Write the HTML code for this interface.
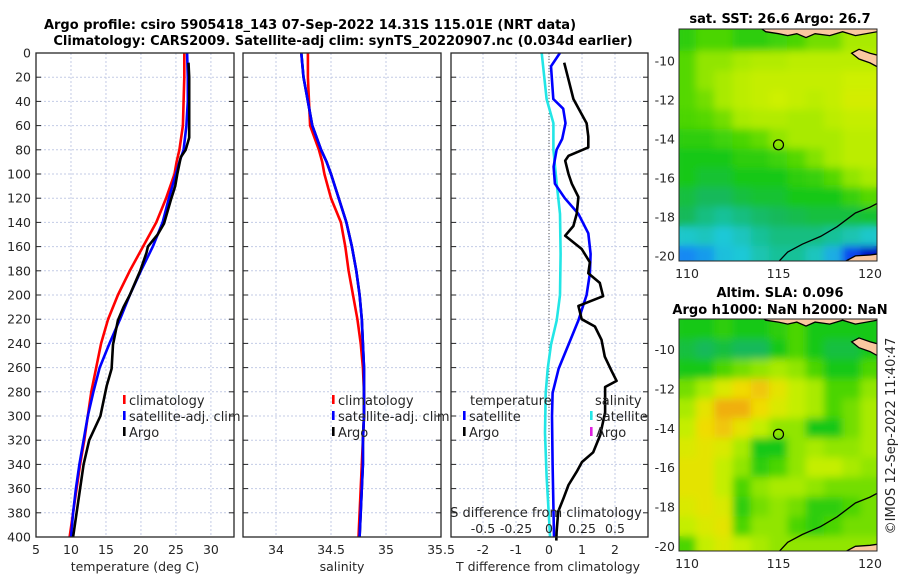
<!DOCTYPE html>
<html><head><meta charset="utf-8">
<style>
html,body{margin:0;padding:0;background:#fff;}
svg{display:block;font-family:"DejaVu Sans","Liberation Sans",sans-serif;}
</style></head>
<body>
<svg id="fig" width="900" height="580" viewBox="0 0 900 580">
<defs><filter id="blurf" x="-5%" y="-5%" width="110%" height="110%"><feGaussianBlur stdDeviation="4"/></filter></defs>
</svg>
<script>
// ---------- data ----------
const depths = [0,20,40,60,80,90,100,120,140,160,180,200,220,240,260,280,300,320,340,360,380,400];
const tempClim = [26.2,26.2,26.1,26.0,25.5,25.1,24.8,23.6,22.2,20.3,18.4,16.7,15.3,14.3,13.6,12.9,12.4,11.9,11.3,10.8,10.3,9.8];
const tempSat  = [26.6,26.7,26.7,26.5,26.1,25.5,25.0,24.0,23.1,21.7,20.0,18.4,17.0,15.5,14.1,13.2,12.4,11.8,11.2,10.7,10.3,10.0];
const argoDepths = [8,20,40,60,70,80,86,100,110,121,141,150,160,165,180,200,210,221,241,261,275,300,320,340,360,380,400];
const tempArgo = [26.8,26.9,26.9,26.9,26.9,26.4,25.7,25.2,24.9,24.3,23.3,22.4,21.0,20.8,19.9,18.4,17.5,16.7,16.0,15.8,15.1,14.2,12.6,11.8,11.3,10.8,10.3];
const salClim = [34.29,34.29,34.30,34.31,34.39,34.42,34.44,34.50,34.59,34.63,34.66,34.70,34.74,34.77,34.79,34.80,34.80,34.79,34.78,34.77,34.76,34.75];
const salSat  = [34.23,34.25,34.29,34.33,34.41,34.46,34.50,34.57,34.64,34.69,34.73,34.76,34.78,34.79,34.80,34.80,34.80,34.79,34.79,34.78,34.77,34.76];
const salArgo = [34.23,34.25,34.29,34.33,34.41,34.46,34.50,34.57,34.64,34.69,34.73,34.76,34.78,34.79,34.80,34.80,34.80,34.79,34.79,34.78,34.77,34.76];
const tdDepths = [0,11,38,46,58,71,80,94,108,120,133,149,166,182,200,221,241,261,281,300,340,400];
const tdiffSat = [0.33,0.06,0.13,0.43,0.50,0.40,0.23,0.14,0.18,0.48,0.89,1.19,1.26,1.24,1.14,0.89,0.59,0.29,0.11,0.09,0.11,0.15];
const tdArgoDepths = [8,22,38,58,69,78,85,89,100,108,119,133,143,151,162,173,182,190,201,209,220,226,237,251,263,271,276,297,316,330,338,346,357,368,379,396,403];
const tdiffArgo = [0.46,0.59,0.74,1.14,1.19,1.19,0.59,0.49,0.59,0.69,0.89,0.84,0.74,0.49,0.99,1.24,1.19,1.54,1.64,0.89,0.99,1.39,1.59,1.69,1.90,2.05,1.70,1.70,1.55,1.34,1.00,0.84,0.59,0.44,0.28,0.23,0.22];
const sdDepths = [0,38,58,80,108,133,166,200,221,241,261,281,314,350,400];
const sdiffSat = [-0.055,-0.018,0.033,0.033,0.058,0.083,0.088,0.083,0.058,0.015,-0.01,-0.025,-0.03,-0.018,0.008];
const depthTicks = [0,20,40,60,80,100,120,140,160,180,200,220,240,260,280,300,320,340,360,380,400];
const tempTicks = [5,10,15,20,25,30];
const salTicks = [34,34.5,35,35.5];
const tdTicks = [-2,-1,0,1,2];
const sdTicks = [-0.5,-0.25,0,0.25,0.5];
const sdTickLabels = ["-0.5","-0.25","0","0.25","0.5"];
const latTicks = [-10,-12,-14,-16,-18,-20];
const lonTicks = [110,115,120];
const sstGrid = [
[0.52,0.55,0.55,0.52,0.52,0.54,0.55,0.58,0.58,0.62,0.62],
[0.56,0.60,0.60,0.62,0.63,0.63,0.64,0.64,0.64,0.64,0.64],
[0.56,0.60,0.62,0.64,0.65,0.65,0.65,0.65,0.65,0.66,0.66],
[0.56,0.58,0.62,0.64,0.65,0.66,0.65,0.64,0.65,0.67,0.67],
[0.55,0.56,0.58,0.62,0.63,0.63,0.62,0.62,0.64,0.65,0.65],
[0.52,0.52,0.54,0.55,0.57,0.60,0.62,0.62,0.62,0.64,0.64],
[0.50,0.50,0.50,0.52,0.52,0.54,0.56,0.59,0.62,0.64,0.64],
[0.50,0.48,0.48,0.50,0.50,0.50,0.52,0.53,0.56,0.60,0.62],
[0.47,0.45,0.45,0.47,0.48,0.48,0.50,0.50,0.50,0.53,0.56],
[0.45,0.42,0.40,0.42,0.44,0.45,0.46,0.47,0.47,0.47,0.48],
[0.36,0.37,0.35,0.37,0.40,0.42,0.42,0.42,0.40,0.38,0.36],
[0.28,0.30,0.34,0.35,0.38,0.40,0.40,0.37,0.32,0.20,0.10]];
const slaGrid = [
[0.50,0.50,0.52,0.50,0.50,0.52,0.55,0.50,0.50,0.50,0.50],
[0.47,0.45,0.47,0.45,0.45,0.50,0.55,0.50,0.47,0.47,0.50],
[0.50,0.50,0.55,0.58,0.60,0.62,0.60,0.55,0.50,0.50,0.55],
[0.58,0.62,0.68,0.72,0.75,0.70,0.65,0.62,0.55,0.55,0.60],
[0.62,0.70,0.78,0.78,0.72,0.68,0.65,0.62,0.55,0.58,0.62],
[0.65,0.72,0.75,0.70,0.65,0.60,0.60,0.50,0.50,0.58,0.62],
[0.68,0.70,0.68,0.62,0.50,0.50,0.60,0.62,0.60,0.60,0.62],
[0.70,0.70,0.65,0.60,0.52,0.55,0.60,0.65,0.65,0.62,0.60],
[0.70,0.70,0.65,0.55,0.60,0.62,0.62,0.60,0.58,0.58,0.58],
[0.68,0.70,0.68,0.52,0.58,0.60,0.58,0.52,0.52,0.55,0.58],
[0.65,0.68,0.70,0.55,0.60,0.60,0.55,0.52,0.55,0.58,0.58],
[0.55,0.65,0.68,0.65,0.62,0.60,0.60,0.60,0.60,0.60,0.60]];
const coastTop = [[114.0,-8.3],[114.3,-8.5],[115.0,-8.6],[115.5,-8.7],[116.0,-8.6],[116.5,-8.8],[117.0,-8.6],[117.8,-8.7],[118.5,-8.5],[119.2,-8.7],[120.4,-8.5],[120.4,-8.3]];
const islandSumba = [[119.0,-9.6],[119.4,-9.4],[120.0,-9.6],[120.4,-9.7],[120.4,-10.3],[120.0,-10.1],[119.4,-9.9]];
const landBR = [[118.6,-20.3],[119.2,-20.0],[120.0,-19.95],[120.4,-19.9],[120.4,-20.3]];
const contour = [[115.0,-20.3],[115.5,-19.8],[116.3,-19.4],[117.3,-19.0],[118.2,-18.5],[119.2,-17.8],[120.0,-17.5],[120.4,-17.3]];
const argoPos = [115.0,-14.3];

// ---------- helpers ----------
const NS="http://www.w3.org/2000/svg";
const svg=document.getElementById('fig');
function mk(tag,attrs,parent){const e=document.createElementNS(NS,tag);for(const k in attrs)e.setAttribute(k,attrs[k]);(parent||svg).appendChild(e);return e;}
function txt(s,x,y,attrs,parent){const e=mk('text',Object.assign({x:x,y:y,'font-size':12.5,fill:'#262626'},attrs||{}),parent);e.textContent=s;return e;}

const PT=53, PB=537;
const yD = d => PT + d*(PB-PT)/400;
function panel(name,x0,x1,xmin,xmax){
  const g=mk('g',{});
  
  
  const sx=v=>x0+(v-xmin)*(x1-x0)/(xmax-xmin);
  return {g,sx,x0,x1};
}
function grid(p,xticks){
  depthTicks.forEach(d=>{ if(d>0&&d<400){const l=mk('line',{x1:p.x0,x2:p.x1,y1:yD(d),y2:yD(d),stroke:'#c3cbe6','stroke-width':1,'stroke-dasharray':'2,2'},p.g);
    
    mk('line',{x1:p.x0,x2:p.x0+5,y1:yD(d),y2:yD(d),stroke:'#262626'},p.g);
    mk('line',{x1:p.x1-5,x2:p.x1,y1:yD(d),y2:yD(d),stroke:'#262626'},p.g);}});
  xticks.forEach(v=>{const x=p.sx(v); if(x>p.x0+1&&x<p.x1-1){const l=mk('line',{x1:x,x2:x,y1:PT,y2:PB,stroke:'#c3cbe6','stroke-width':1,'stroke-dasharray':'2,2'},p.g);
    }});
}
function frame(p){const r=mk('rect',{x:p.x0,y:PT,width:p.x1-p.x0,height:PB-PT,fill:'none',stroke:'#262626','stroke-width':1.3},p.g);
  }
function line(p,xs,ds,color,name,w){
  const pts=xs.map((v,i)=>p.sx(v).toFixed(1)+','+yD(ds[i]).toFixed(1)).join(' ');
  const e=mk('polyline',{points:pts,fill:'none',stroke:color,'stroke-width':w||2.6,'stroke-linejoin':'round'},p.g);
  
}
function xlabels(p,ticks,labels,y){ticks.forEach((v,i)=>{const t=txt(labels?labels[i]:String(v),p.sx(v),y,{'text-anchor':'middle'},p.g);
  });}
function legendItem(p,x,y,color,label){
  const r=mk('rect',{x:x-6,y:y-10,width:2.6,height:9,fill:color},p.g);
  
  const t=txt(label,x,y,{'font-size':13},p.g);
  
}

let t=txt('Argo profile: csiro 5905418_143 07-Sep-2022 14.31S 115.01E (NRT data)',310,29,{'text-anchor':'middle','font-weight':'bold','font-size':13,fill:'#000'});

t=txt('Climatology: CARS2009. Satellite-adj clim: synTS_20220907.nc (0.034d earlier)',343,45,{'text-anchor':'middle','font-weight':'bold','font-size':13,fill:'#000'});


// ---------- panel 1 ----------
const p1=panel('temperature-panel',36,234,5,33.3);
grid(p1,tempTicks);
line(p1,tempClim,depths,'#ff0000','climatology-temperature-line');
line(p1,tempSat,depths,'#0000ff','satellite-temperature-line');
line(p1,tempArgo,argoDepths,'#000000','argo-temperature-line');
frame(p1);
depthTicks.forEach(d=>{const e=txt(String(d),31,yD(d)+4.5,{'text-anchor':'end'},p1.g);});
xlabels(p1,tempTicks,null,554);
t=txt('temperature (deg C)',135,571,{'text-anchor':'middle'},p1.g);
legendItem(p1,129,405,'#ff0000','climatology');
legendItem(p1,129,421,'#0000ff','satellite-adj. clim');
legendItem(p1,129,437,'#000000','Argo');

// ---------- panel 2 ----------
const p2=panel('salinity-panel',243,441,33.7,35.5);
grid(p2,salTicks);
line(p2,salClim,depths,'#ff0000','climatology-salinity-line');
line(p2,salArgo,depths,'#000000','argo-salinity-line');
line(p2,salSat,depths,'#0000ff','satellite-salinity-line');
frame(p2);
xlabels(p2,salTicks,null,554);
t=txt('salinity',342,571,{'text-anchor':'middle'},p2.g);
legendItem(p2,338,405,'#ff0000','climatology');
legendItem(p2,338,421,'#0000ff','satellite-adj. clim');
legendItem(p2,338,437,'#000000','Argo');

// ---------- panel 3 ----------
const p3=panel('difference-panel',451,648,-98/33,99/33);
const p3s=panel('s-difference-axis',451,648,-98/132,99/132);
grid(p3,tdTicks);
let z=mk('line',{x1:p3.sx(0),x2:p3.sx(0),y1:PT,y2:PB,stroke:'#555','stroke-width':1,'stroke-dasharray':'1,2'},p3.g);

p3s.g.remove();
const sdLine={g:p3.g,sx:p3s.sx};
line(sdLine,sdiffSat,sdDepths,'#22e6e6','satellite-salinity-diff-line');
line(p3,tdiffSat,tdDepths,'#0000ff','satellite-temperature-diff-line');
line(p3,tdiffArgo,tdArgoDepths,'#000000','argo-temperature-diff-line');
frame(p3);
xlabels(p3,tdTicks,null,554);
t=txt('T difference from climatology',548,571,{'text-anchor':'middle'},p3.g);
t=txt('S difference from climatology',546,517,{'text-anchor':'middle','font-size':13},p3.g);
sdTicks.forEach((v,i)=>{const e=txt(sdTickLabels[i],p3s.sx(v),533,{'text-anchor':'middle'},p3.g);});
t=txt('temperature',470,405,{'font-size':13},p3.g);
legendItem(p3,469,421,'#0000ff','satellite');
legendItem(p3,469,437,'#000000','Argo');
t=txt('salinity',595,405,{'font-size':13},p3.g);
legendItem(p3,596,421,'#22e6e6','satellite');
legendItem(p3,596,437,'#e020e0','Argo');

// ---------- maps ----------
const cstops=[[0.0,[0,0,140]],[0.12,[0,0,210]],[0.25,[20,110,255]],[0.35,[30,200,215]],[0.45,[20,185,90]],[0.5,[25,200,25]],[0.56,[85,216,0]],[0.61,[160,232,0]],[0.66,[205,240,0]],[0.72,[240,220,0]],[0.8,[240,160,20]],[1,[230,60,0]]];
function cmap(v){for(let i=1;i<cstops.length;i++){if(v<=cstops[i][0]){const a=cstops[i-1],b=cstops[i];const f=(v-a[0])/(b[0]-a[0]);const c=a[1].map((x,k)=>Math.round(x+(b[1][k]-x)*f));return 'rgb('+c.join(',')+')';}}return 'rgb(230,60,0)';}
function drawMap(name,grid,x0,x1,yTop,yBot,latTop,latBot,title1,title2,ty1,ty2){
  const g=mk('g',{});
  
  
  const lonMin=110-(687-x0)/18.3, lonMax=lonMin+(x1-x0)/18.3;
  const sx=lon=>x0+(lon-lonMin)*(x1-x0)/(lonMax-lonMin);
  const sy=lat=>yTop+(latTop-lat)*(yBot-yTop)/(latTop-latBot);
  const cid=name+'-clip';
  const cp=mk('clipPath',{id:cid},g);mk('rect',{x:x0,y:yTop,width:x1-x0,height:yBot-yTop},cp);
  const inner=mk('g',{'clip-path':'url(#'+cid+')'},g);
  const base=mk('g',{},inner);
  const soft=mk('g',{filter:'url(#blurf)'},inner);
  [base,soft].forEach(layer=>{
    grid.forEach((row,r)=>row.forEach((v,c)=>{
      const lat=-9-r, lon=110+c;
      const y0=r===0?yTop-10:sy(lat+0.5);
      const cell=mk('rect',{x:sx(lon-0.5)-0.3,y:y0-0.3,width:sx(lon+0.5)-sx(lon-0.5)+0.6,height:sy(lat-0.5)-y0+0.6+(r===grid.length-1?10:0),fill:cmap(v)},layer);
      
      
    }));
  });
  const toPts=arr=>arr.map(p=>sx(p[0]).toFixed(1)+','+sy(p[1]).toFixed(1)).join(' ');
  let e=mk('polygon',{points:toPts(coastTop),fill:'#fac8a0',stroke:'#000','stroke-width':1.3},inner);
  e=mk('polygon',{points:toPts(islandSumba),fill:'#fac8a0',stroke:'#000','stroke-width':1.3},inner);
  e=mk('polygon',{points:toPts(landBR),fill:'#fac8a0',stroke:'#000','stroke-width':1.3},inner);
  e=mk('polyline',{points:toPts(contour),fill:'none',stroke:'#000','stroke-width':1.3},inner);
  e=mk('circle',{cx:sx(argoPos[0]),cy:sy(argoPos[1]),r:5,fill:'none',stroke:'#000','stroke-width':1.2},g);
  e=mk('rect',{x:x0,y:yTop,width:x1-x0,height:yBot-yTop,fill:'none',stroke:'#262626','stroke-width':1},g);
  latTicks.forEach(l=>{const tt=txt(String(l),x0-4,sy(l)+4.5,{'text-anchor':'end'},g);});
  lonTicks.forEach(l=>{const tt=txt(String(l),sx(l),yBot+17,{'text-anchor':'middle'},g);});
  let tt=txt(title1,780,ty1,{'text-anchor':'middle','font-weight':'bold','font-size':13,fill:'#000'},g);
  if(title2){tt=txt(title2,780,ty2,{'text-anchor':'middle','font-weight':'bold','font-size':13,fill:'#000'},g);}
}
drawMap('sst-map',sstGrid,679,877,29,261,-8.36,-20.26,'sat. SST: 26.6 Argo: 26.7',null,23,0);
drawMap('sla-map',slaGrid,679,877,319,551,-8.44,-20.24,'Altim. SLA: 0.096','Argo h1000: NaN h2000: NaN',297,314);
t=txt('©IMOS 12-Sep-2022 11:40:47',0,0,{'text-anchor':'middle','font-size':13,transform:'translate(895,436) rotate(-90)'});

</script>
</body></html>
